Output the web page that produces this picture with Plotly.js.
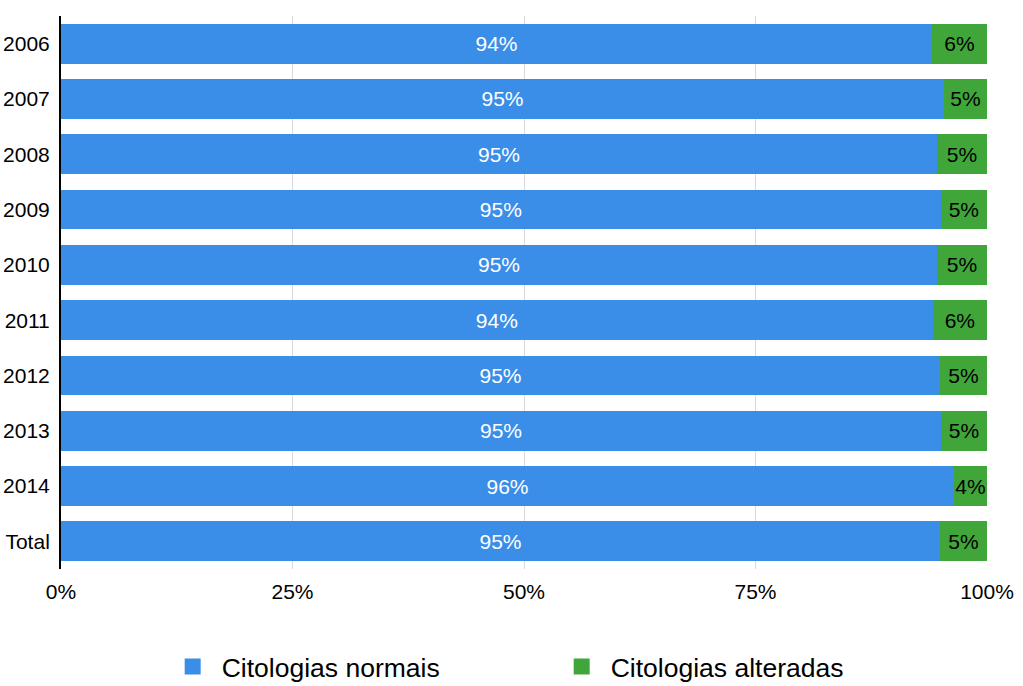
<!DOCTYPE html>
<html>
<head>
<meta charset="utf-8">
<script src="https://cdn.plot.ly/plotly-3.0.1.min.js"></script>
<style>html,body{margin:0;padding:0;background:#fff;}#chart{width:1023px;height:686px;}</style>
</head>
<body>
<div id="chart"></div>
<script>
var categories = ["2006","2007","2008","2009","2010","2011","2012","2013","2014","Total"];
var normais = [94.06, 95.36, 94.6, 95.0, 94.6, 94.13, 94.92, 95.03, 96.43, 94.92];
var alteradas = [5.94, 4.64, 5.4, 5.0, 5.4, 5.87, 5.08, 4.97, 3.57, 5.08];
var normaisLabels = ["94%","95%","95%","95%","95%","94%","95%","95%","96%","95%"];
var alteradasLabels = ["6%","5%","5%","5%","5%","6%","5%","5%","4%","5%"];
var seriesNames = ["Citologias normais","Citologias alteradas"];
var tickVals = [0,25,50,75,100];
var tickText = ["0%","25%","50%","75%","100%"];

var blue = "#3a8ee8", green = "#40a63a";
var font = "Liberation Sans, Arial, Helvetica, sans-serif";

var traces = [
  {type:"bar", orientation:"h", y:categories, x:normais, name:seriesNames[0],
   marker:{color:blue, line:{width:0}}, text:normaisLabels, texttemplate:"%{text}",
   textposition:"inside", insidetextanchor:"middle", textangle:0,
   textfont:{color:"#ffffff", size:21, family:font}, showlegend:false, hoverinfo:"x+y"},
  {type:"bar", orientation:"h", y:categories, x:alteradas, name:seriesNames[1],
   marker:{color:green, line:{width:0}}, text:alteradasLabels, texttemplate:"%{text}",
   textposition:"inside", insidetextanchor:"middle", textangle:0, cliponaxis:false,
   textfont:{color:"#000000", size:21, family:font}, showlegend:false, hoverinfo:"x+y"},
  {type:"scatter", mode:"markers", x:[null], y:[null], name:seriesNames[0],
   marker:{symbol:"square", size:16, color:blue}, showlegend:true},
  {type:"scatter", mode:"markers", x:[null], y:[null], name:seriesNames[1],
   marker:{symbol:"square", size:16, color:green}, showlegend:true}
];

var layout = {
  width:1023, height:686,
  margin:{l:61, r:36, t:16, b:117},
  barmode:"stack", bargap:0.28,
  paper_bgcolor:"#ffffff", plot_bgcolor:"#ffffff",
  font:{family:font, size:20, color:"#000"},
  uniformtext:{mode:"show", minsize:20},
  xaxis:{range:[0,100], tickvals:tickVals, ticktext:tickText, showgrid:true,
         gridcolor:"#d9d9d9", gridwidth:1, zeroline:false, showline:false,
         ticks:"", ticklabelstandoff:8, tickfont:{size:21, family:font}, fixedrange:true},
  yaxis:{type:"category", categoryorder:"array", categoryarray:categories, autorange:"reversed",
         showgrid:false, zeroline:false, showline:true, linecolor:"#000", linewidth:2,
         ticks:"", ticklabelstandoff:5, tickfont:{size:21, family:font}, fixedrange:true},
  legend:{orientation:"h", traceorder:"normal", xref:"container", yref:"container", x:0.160, y:0.028,
          xanchor:"left", yanchor:"middle", font:{size:26.5, family:font},
          entrywidth:326, entrywidthmode:"pixels", itemwidth:48}
};

Plotly.newPlot("chart", traces, layout, {displayModeBar:false, staticPlot:true});
</script>
</body>
</html>
